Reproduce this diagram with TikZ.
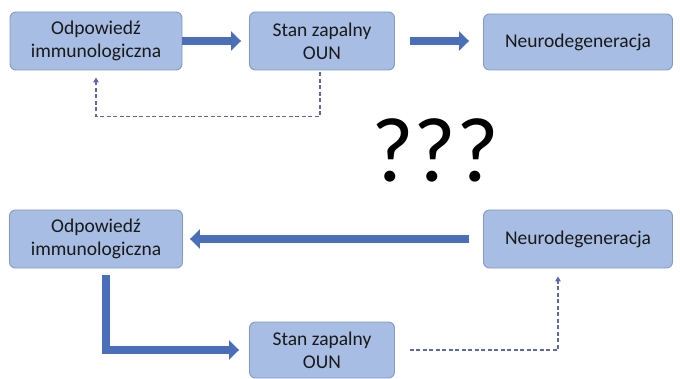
\documentclass[tikz,border=0pt]{standalone}
\usepackage{fontspec}
\setmainfont{Carlito}
\usetikzlibrary{arrows.meta}
\usetikzlibrary{calc}
\definecolor{boxfill}{RGB}{167,189,227}
\definecolor{boxline}{RGB}{132,154,198}
\definecolor{flow}{RGB}{74,111,184}
\definecolor{feedback}{RGB}{92,104,168}

\begin{document}
\begin{tikzpicture}[x=1pt, y=1pt]
            \tikzset{block/.style={draw=boxline, fill=boxfill, rounded corners=6pt, line width=0.9pt, align=center, font=\fontsize{19.5}{23}\selectfont, text=black!90}}
            \tikzset{flowarrow/.style={flow, line width=8pt, -{Triangle[width=19pt, length=10pt]}}}
            \tikzset{backarrow/.style={feedback, dashed, line width=1.5pt, dash pattern=on 4pt off 2.5pt, -{Triangle[width=5.5pt, length=5pt]}}}
            \useasboundingbox (0, 0) rectangle (680, 378);
            \node[block, minimum width=172pt, minimum height=58pt] (immunoTop) at (96, 337) {Odpowiedź\\immunologiczna};
            \node[block, minimum width=145pt, minimum height=58pt] (zapalTop) at (322, 337) {Stan zapalny\\OUN};
            \node[block, minimum width=189pt, minimum height=56pt] (neuroTop) at (578, 336) {Neurodegeneracja};
            \draw[flowarrow, shorten <=0pt, shorten >=8pt] (immunoTop.east) -- (zapalTop.west |- immunoTop.east);
            \draw[flowarrow, shorten <=15pt, shorten >=14pt] (zapalTop.east) -- (neuroTop.west |- zapalTop.east);
            \draw[backarrow, shorten <=2pt, shorten >=7pt, rounded corners=0pt] ([xshift=-2pt]zapalTop.south) -- ++(0, -46) -| (immunoTop.south);
            \node[font=\fontsize{92}{92}\selectfont, text=black] (pytania) at (435, 228) {???};
            \node[block, minimum width=173pt, minimum height=58pt] (immunoBot) at (96, 139) {Odpowiedź\\immunologiczna};
            \node[block, minimum width=189pt, minimum height=58pt] (neuroBot) at (578, 139) {Neurodegeneracja};
            \node[block, minimum width=145pt, minimum height=56pt] (zapalBot) at (322, 28) {Stan zapalny\\OUN};
            \draw[flowarrow, shorten <=14pt, shorten >=7pt] (neuroBot.west) -- (immunoBot.east);
            \draw[flowarrow, shorten <=7pt, shorten >=10pt] ([xshift=10pt]immunoBot.south) |- (zapalBot.west);
            \draw[backarrow, shorten <=15pt, shorten >=8pt] (zapalBot.east) -| ([xshift=-20pt]neuroBot.south);
        \end{tikzpicture}
\end{document}
